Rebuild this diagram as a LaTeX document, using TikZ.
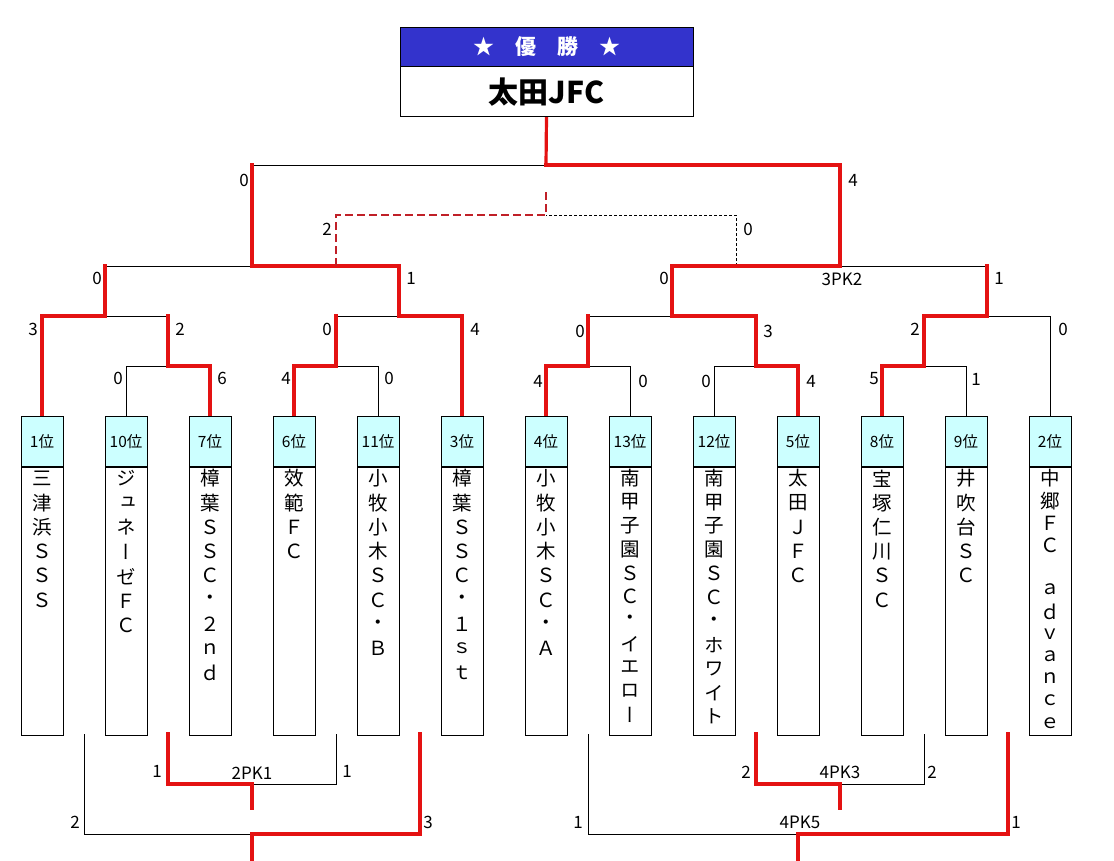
\documentclass[tikz,border=0pt]{standalone}
\usepackage{fontspec}
\setmainfont{Noto Sans CJK JP}
\newfontfamily\vtfont[RawFeature=+vert]{Noto Sans CJK JP}
\usepackage{tikz}
\usetikzlibrary{positioning,backgrounds}
\definecolor{wred}{RGB}{228,18,18}
\definecolor{tred}{RGB}{192,32,40}
\definecolor{hdblue}{RGB}{51,51,204}
\definecolor{rkcyan}{RGB}{204,255,255}
\tikzset{
  vh/.style={rectangle,draw=black,fill=hdblue,minimum width=293pt,minimum height=39pt,inner sep=0pt,line width=.8pt,text=white,font=\fontsize{21}{21}\selectfont\bfseries},
  vb/.style={rectangle,draw=black,fill=white,minimum width=293pt,minimum height=50pt,inner sep=0pt,line width=.8pt,font=\fontsize{30}{30}\selectfont\bfseries},
  rk/.style={rectangle,draw=black,fill=rkcyan,minimum width=42pt,minimum height=50pt,inner sep=0pt,line width=.8pt,font=\fontsize{15.5}{15.5}\selectfont},
  bd/.style={rectangle,draw=black,fill=white,minimum width=42pt,minimum height=268pt,inner sep=0pt,line width=.8pt},
  ch/.style={inner sep=0pt,font=\fontsize{19.5}{19.5}\vtfont},
  sc/.style={inner sep=0pt,font=\fontsize{17}{17}\selectfont},
  lnk/.style={draw=black,line width=.8pt},
  win/.style={draw=wred,line width=3.2pt,line cap=rect},
  % third place match: dashed, winner side dark red
  tpw/.style={draw=tred,line width=2.6pt,dash pattern=on 8pt off 4pt},
  tpl/.style={draw=black,line width=.8pt,dash pattern=on 3pt off 2pt},
}

\begin{document}
\begin{tikzpicture}[x=1pt,y=-1pt]
\useasboundingbox (0,0) rectangle (1114,860);

% champion
\node[vh] (vh) at (546.5,46.5) {★\quad 優\quad 勝\quad ★};
\node[vb,below=0pt of vh] (vb) {太田JFC};

% team boxes
\foreach \i/\rank in {1/1,2/10,3/7,4/6,5/11,6/3,7/4,8/13,9/12,10/5,11/8,12/9,13/2}{
  \node[rk,anchor=north] (h\i) at ({42+84*(\i-1)},416) {\rank 位};
  \node[bd,below=0pt of h\i] (b\i) {};
}
\foreach \i/\p/\nm in {1/24.3/{三,津,浜,Ｓ,Ｓ,Ｓ},
    2/24.5/{ジ,ュ,ネ,ー,ゼ,Ｆ,Ｃ},
    3/24.3/{樟,葉,Ｓ,Ｓ,Ｃ,・,２,ｎ,ｄ},
    4/24.3/{效,範,Ｆ,Ｃ},
    5/24.3/{小,牧,小,木,Ｓ,Ｃ,・,Ｂ},
    6/24.3/{樟,葉,Ｓ,Ｓ,Ｃ,・,１,ｓ,ｔ},
    7/24.3/{小,牧,小,木,Ｓ,Ｃ,・,Ａ},
    8/23.6/{南,甲,子,園,Ｓ,Ｃ,・,イ,エ,ロ,ー},
    9/23.8/{南,甲,子,園,Ｓ,Ｃ,・,ホ,ワ,イ,ト},
    10/24.3/{太,田,Ｊ,Ｆ,Ｃ},
    11/24.3/{宝,塚,仁,川,Ｓ,Ｃ},
    12/24.3/{井,吹,台,Ｓ,Ｃ},
    13/22.2/{中,郷,Ｆ,Ｃ,　,ａ,ｄ,ｖ,ａ,ｎ,ｃ,ｅ}}
  \foreach \cc [count=\k] in \nm
    \node[ch] (n\i-\k) at ({42+84*(\i-1)},{478.5+\p*(\k-1)}) {\cc};

% junctions
\coordinate (m1) at (168,366); \coordinate (m2) at (105,316);
\coordinate (m3) at (336,366); \coordinate (m4) at (399,316);
\coordinate (sL) at (252,266);
\coordinate (m5) at (588,366); \coordinate (m6) at (756,366);
\coordinate (m7) at (672,316); \coordinate (m8) at (924,366);
\coordinate (m9) at (987,316); \coordinate (sR) at (840,266);
\coordinate (fin) at (546,165);
\coordinate (t1) at (336,266); \coordinate (t2) at (736,266);
\coordinate (tp) at (546,215); \coordinate (tpe) at (546,192);
\foreach \k in {1,2,4,5,7,9,11,12}
  \coordinate (gp\k) at (84*\k,734);
\coordinate (c1) at (252,784); \coordinate (c1e) at (252,808);
\coordinate (c2) at (252,834); \coordinate (c2e) at (252,860);
\coordinate (c3) at (840,784); \coordinate (c3e) at (840,808);
\coordinate (c4) at (798,834); \coordinate (c4e) at (798,860);

\begin{scope}[on background layer]
  % losing sides
  \draw[lnk] (h2.north) |- (m1) (h5.north) |- (m3)
    (h8.north) |- (m5) (h9.north) |- (m6)
    (h12.north) |- (m8) (h13.north) |- (m9);
  \draw[lnk] (m1|-m2) -- (m2) (m3|-m4) -- (m4) (m2|-sL) -- (sL)
    (m5|-m7) -- (m7) (m9|-sR) -- (sR) (sL|-fin) -- (fin);
  \draw[lnk] (gp4) |- (c1) (gp1) |- (c2) (gp11) |- (c3) (gp7) |- (c4);
  \draw[tpl] (t2) |- (tp);
  % winning sides
  \draw[win] (h3.north) |- (m1);
  \draw[win] (h1.north) |- (m2);
  \draw[win] (m1) -- (m1|-m2);
  \draw[win] (h4.north) |- (m3);
  \draw[win] (h6.north) |- (m4);
  \draw[win] (m3) -- (m3|-m4);
  \draw[win] (m4) |- (sL);
  \draw[win] (m2) -- (m2|-sL);
  \draw[win] (h7.north) |- (m5);
  \draw[win] (h10.north) |- (m6);
  \draw[win] (m6) |- (m7);
  \draw[win] (m5) -- (m5|-m7);
  \draw[win] (h11.north) |- (m8);
  \draw[win] (m8) |- (m9);
  \draw[win] (m7) |- (sR);
  \draw[win] (m9) -- (m9|-sR);
  \draw[win] (sR) |- (fin);
  \draw[win] (sL) -- (sL|-fin);
  \draw[win] (fin) -- (vb.south);
  \draw[tpw] (t1) |- (tp) -- (tpe);
  \draw[win] (gp2) |- (c1) -- (c1e);
  \draw[win] (gp5) |- (c2) -- (c2e);
  \draw[win] (gp9) |- (c3) -- (c3e);
  \draw[win] (gp12) |- (c4) -- (c4e);
\end{scope}

% scores
\foreach \x/\y/\t [count=\k] in {244/180/0,853/180/4,327/229/2,748/229/0,
    97/278/0,411/278/1,664/278/0,999/278/1,
    33/329/3,180/329/2,327/329/0,475/329/4,580/331/0,768/331/3,915/329/2,1063/329/0,
    118/378/0,222/378/6,286/378/4,389/378/0,538/381/4,643/381/0,706/381/0,811/381/4,874/379/5,976/379/1,
    157/771/1,347/771/1,75/822/2,428/822/3,746/772/2,932/772/2,578/822/1,1016/822/1,
    842/279/3PK2,252/773/2PK1,840/772/4PK3,800/822/4PK5}
  \node[sc] (s\k) at (\x,\y) {\t};
\end{tikzpicture}
\end{document}
